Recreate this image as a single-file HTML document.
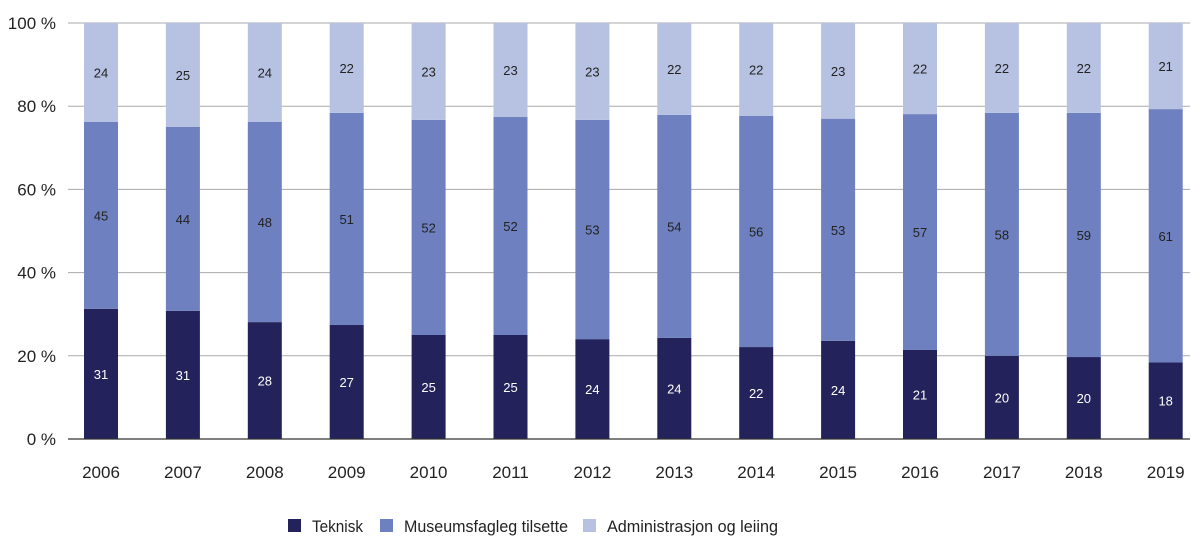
<!DOCTYPE html>
<html><head><meta charset="utf-8"><style>
body{margin:0;background:#fff;}
svg{display:block;font-family:"Liberation Sans",sans-serif;}
</style></head><body>
<svg id="chart" width="1200" height="556" viewBox="0 0 1200 556"></svg>
<script>
const years=["2006","2007","2008","2009","2010","2011","2012","2013","2014","2015","2016","2017","2018","2019"];
const teknisk=[31.3,30.8,28.1,27.4,25.0,25.0,24.0,24.3,22.1,23.6,21.4,20.0,19.7,18.4];
const museum=[44.9,44.2,48.1,51.0,51.7,52.4,52.7,53.6,55.6,53.4,56.7,58.4,58.7,60.9];
const admin=[23.8,25.0,23.8,21.6,23.3,22.6,23.3,22.1,22.3,23.0,21.9,21.6,21.6,20.7];
const yTicks=[0,20,40,60,80,100];
const seriesNames=["Teknisk","Museumsfagleg tilsette","Administrasjon og leiing"];
const colors=["#23225a","#6e80bf","#b7c2e3"];
const NS="http://www.w3.org/2000/svg";
const svg=document.getElementById("chart");
const y0=439,y100=23,x0=68,x1=1190,first=101,step=81.9,bw=34;
const y=v=>y0-(y0-y100)*v/100;
const x=i=>first+step*i;
function mk(t,a){const e=document.createElementNS(NS,t);for(const k in a)e.setAttribute(k,a[k]);svg.appendChild(e);return e;}
yTicks.forEach(t=>{
  const l=mk("line",{x1:x0,x2:x1,y1:y(t),y2:y(t),stroke:"#aaa","stroke-width":1});
  
  
  const tx=mk("text",{x:56,y:y(t)+6,"text-anchor":"end","font-size":17,fill:"#222"});
  tx.textContent=t+" %";
  
  
});
const series=[teknisk,museum,admin];
years.forEach((yr,i)=>{
  let cum=0;
  series.forEach((s,k)=>{
    const v=s[i];
    const r=mk("rect",{x:x(i)-bw/2,y:y(cum+v),width:bw,height:y(cum)-y(cum+v),fill:colors[k]});
    
    
    const t=mk("text",{x:x(i),y:y(cum+v/2)+5,"text-anchor":"middle","font-size":13,fill:k==0?"#fff":"#222"});
    t.textContent=Math.round(v);
    
    
    cum+=v;
  });
  const xl=mk("text",{x:x(i),y:478,"text-anchor":"middle","font-size":17,fill:"#222"});
  xl.textContent=yr;
  
  
});
const ax=mk("line",{x1:x0,x2:x1,y1:y0,y2:y0,stroke:"#333","stroke-width":1.2});


const legX=[288,380,583];
const legW=[51,164,171];
seriesNames.forEach((n,k)=>{
  const g=mk("g",{});
  
  
  const r=document.createElementNS(NS,"rect");
  r.setAttribute("x",legX[k]);r.setAttribute("y",519);r.setAttribute("width",13);r.setAttribute("height",13);r.setAttribute("fill",colors[k]);
  
  
  g.appendChild(r);
  const t=document.createElementNS(NS,"text");
  t.setAttribute("x",legX[k]+24);t.setAttribute("y",532);t.setAttribute("font-size",17);t.setAttribute("fill","#222");
  t.setAttribute("textLength",legW[k]);t.setAttribute("lengthAdjust","spacingAndGlyphs");
  t.textContent=n;
  
  
  g.appendChild(t);
});
</script>
</body></html>
